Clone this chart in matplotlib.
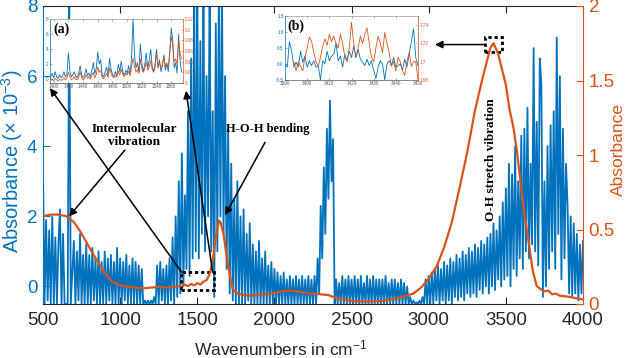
import numpy as np
import matplotlib
matplotlib.use('Agg')
import matplotlib.pyplot as plt
from matplotlib.patches import Rectangle

plt.rcParams['font.family'] = ['Liberation Sans', 'DejaVu Sans']
plt.rcParams['mathtext.default'] = 'regular'

BLUE = '#0072BD'
ORANGE = '#D95319'
DARK = '#262626'

# ---------------- main blue spectrum (x 10^-3), every 10 cm^-1 from 500 ----------------
blue_0500 = [3.3, -0.5, 1.9, -0.4, 1.6, -0.5, 2.0, -0.5, 1.4, -0.5,
             1.2, 2.2, -0.5, 1.5, -0.5, -0.5, -0.5, 8.5, -0.5, 0.4,
             1.3, -0.5, 1.0, -0.4, 1.5, -0.5, 0.9, -0.5, 1.2, -0.5,
             0.9, -0.5, 1.1, -0.4, 0.8, -0.5, 1.0, -0.5, 0.7, -0.5,
             1.0, -0.5, 0.8, -0.4, 0.9, -0.5, 0.7, -0.5, 1.1, -0.5]
blue_1000 = [0.8, -0.5, 0.7, -0.4, 0.9, -0.5, 0.6, -0.5, 0.8, -0.5,
             0.7, -0.5, 0.6, -0.5, 0.5, -0.5, -0.4, -0.5, -0.4, -0.5,
             -0.4, -0.5, -0.3, -0.5, 0.6, -0.5, 0.7, -0.4, 0.5, -0.5,
             0.6, -0.5, 0.8, -0.4, 1.4, -0.5, 2.0, -0.3, 3.0, -0.2,
             3.8, 0.0, 2.6, 0.5, 5.0, 0.3, 6.5, 0.8, 8.5, 1.0]
blue_1500 = [8.5, 0.8, 7.0, 1.5, 8.5, 1.0, 6.0, 2.0, 8.5, 1.0,
             5.0, -0.3, 7.5, 1.0, 8.5, 2.0, 8.5, 1.5, 6.0, 0.5,
             4.5, -0.2, 3.5, -0.4, 2.5, -0.5, 3.0, -0.5, 2.0, -0.5,
             2.2, -0.5, 1.5, -0.4, 1.8, -0.5, 1.2, -0.5, 1.0, -0.5,
             1.3, -0.5, 0.8, -0.5, 1.0, -0.5, 0.6, -0.5, 0.7, -0.5]
blue_2000 = [0.5, -0.5, 0.4, -0.5, 0.3, -0.5, 0.4, -0.5, 0.2, -0.5,
             0.3, -0.5, 0.2, -0.5, 0.3, -0.5, 0.2, -0.5, 0.3, -0.5,
             0.2, -0.5, 0.3, -0.5, 0.2, -0.5, 0.3, -0.5, 0.8, -0.2,
             2.3, 0.8, 3.4, 1.5, 4.5, 2.5, 5.3, 3.0, 4.2, -0.5,
             0.2, -0.5, 0.1, -0.5, 0.3, -0.5, 0.2, -0.5, 0.3, -0.5]
blue_2500 = [0.2, -0.5, 0.3, -0.5, 0.2, -0.5, 0.3, -0.5, 0.1, -0.5,
             0.3, -0.5, 0.2, -0.5, 0.3, -0.5, 0.2, -0.5, 0.2, -0.5,
             0.2, -0.5, 0.3, -0.5, 0.1, -0.5, 0.2, -0.5, 0.2, -0.5,
             0.1, -0.5, 0.2, -0.5, 0.1, -0.5, 0.0, -0.5, -0.3, -0.5,
             -0.4, -0.5, -0.45, -0.5, -0.4, -0.5, -0.3, -0.5, 0.2, -0.5]
blue_3000 = [0.3, -0.5, 0.4, -0.5, 0.5, -0.4, 0.6, -0.5, 0.5, -0.4,
             0.7, -0.5, 0.6, -0.4, 0.8, -0.5, 0.7, -0.3, 0.9, -0.4,
             0.8, -0.3, 1.0, -0.4, 0.9, -0.2, 1.1, -0.3, 1.0, -0.2,
             1.2, -0.3, 1.1, -0.1, 1.3, -0.2, 1.2, 0.0, 1.4, -0.2,
             1.5, 0.0, 1.8, -0.1, 1.6, 0.2, 2.0, 0.0, 2.4, 0.2]
blue_3500 = [2.8, 0.3, 3.5, 0.0, 3.2, 0.5, 4.0, 0.3, 3.0, 0.8,
             4.3, 0.5, 4.5, 1.0, 5.1, 0.8, 3.5, 1.2, 6.8, 1.0,
             4.7, 0.6, 6.5, 5.8, -0.3, 3.0, 0.0, 4.0, 0.5, 4.6,
             1.0, 5.0, 0.5, 7.1, 1.5, 6.0, 0.2, 4.5, 0.8, 3.5,
             2.3, -0.2, 2.0, -0.3, 1.8, -0.2, 1.5, -0.4, 1.2, -0.2,
             1.3]
blue_vals = blue_0500 + blue_1000 + blue_1500 + blue_2000 + blue_2500 + blue_3000 + blue_3500
blue_wn = 500 + 10 * np.arange(len(blue_vals))

# ---------------- main orange spectrum ----------------
orange_wn = [500, 550, 600, 650, 700, 740, 800, 850, 900, 950, 1000, 1050, 1100, 1150,
             1200, 1250, 1300, 1350, 1400, 1420, 1440, 1460, 1480, 1500, 1520, 1540,
             1560, 1580, 1600, 1620, 1640, 1650, 1670, 1700, 1730, 1760, 1800, 1850,
             1900, 1950, 2000, 2050, 2100, 2150, 2200, 2250, 2300, 2350, 2400, 2450,
             2500, 2600, 2700, 2800, 2850, 2900, 2950, 3000, 3050, 3100, 3150, 3200,
             3250, 3300, 3350, 3400, 3420, 3450, 3500, 3525, 3550, 3575, 3600, 3625,
             3650, 3675, 3700, 3725, 3750, 3775, 3800, 3825, 3850, 3900, 3950, 4000]
orange_vals = [0.59, 0.60, 0.60, 0.59, 0.55, 0.49, 0.38, 0.29, 0.21, 0.15, 0.125, 0.115,
               0.11, 0.105, 0.11, 0.115, 0.11, 0.115, 0.12, 0.13, 0.12, 0.135, 0.125,
               0.14, 0.13, 0.15, 0.16, 0.20, 0.29, 0.45, 0.56, 0.55, 0.47, 0.25, 0.10,
               0.07, 0.06, 0.055, 0.06, 0.065, 0.075, 0.085, 0.09, 0.085, 0.075, 0.07,
               0.065, 0.06, 0.04, 0.03, 0.02, 0.015, 0.02, 0.04, 0.055, 0.07, 0.11,
               0.17, 0.25, 0.38, 0.55, 0.78, 1.02, 1.30, 1.52, 1.72, 1.75, 1.68, 1.47,
               1.30, 1.18, 1.00, 0.77, 0.57, 0.40, 0.22, 0.12, 0.10, 0.085, 0.09, 0.065,
               0.07, 0.055, 0.05, 0.04, 0.03]

# ---------------- inset (a) ----------------
ia_wn = list(range(1396, 1576, 2))
ia_blue = [0.3, 0.8, 0.2, 1.0, 0.3, 0.1, 0.6, 0.2, 0.4, 1.0,
           0.3, 0.6, 3.5, 1.2, 0.3, 0.6, 1.0, 0.4, 0.2, 0.8,
           1.8, 0.6, 0.2, 0.5, 1.4, 0.5, 0.8, 0.3, 1.2, 2.2,
           0.7, 1.5, 3.6, 2.0, 2.6, 0.6, 0.3, 1.0, 1.6, 0.5,
           2.8, 1.4, 0.6, 0.4, 1.0, 0.5, 2.0, 1.0, 2.4, 1.0,
           0.5, 1.2, 0.8, 1.8, 0.6, 3.0, 8.0, 3.2, 1.5, 2.2,
           1.0, 4.7, 2.2, 1.0, 2.0, 3.5, 1.5, 2.5, 4.0, 1.8,
           1.0, 2.0, 4.0, 1.5, 2.6, 1.0, 1.8, 3.2, 1.2, 2.0,
           1.0, 3.5, 6.8, 5.2, 1.5, 2.2, 0.8, 6.0, 2.5, 1.0]
ia_orange = [0.005, 0.008, 0.004, 0.009, 0.006, 0.004, 0.007, 0.005, 0.006, 0.010,
             0.006, 0.009, 0.020, 0.012, 0.006, 0.008, 0.012, 0.007, 0.006, 0.010,
             0.022, 0.010, 0.006, 0.008, 0.015, 0.009, 0.012, 0.007, 0.014, 0.020,
             0.010, 0.016, 0.030, 0.020, 0.024, 0.010, 0.008, 0.013, 0.018, 0.010,
             0.028, 0.018, 0.012, 0.010, 0.014, 0.011, 0.022, 0.015, 0.026, 0.016,
             0.012, 0.018, 0.015, 0.022, 0.014, 0.030, 0.047, 0.032, 0.020, 0.025,
             0.018, 0.045, 0.028, 0.020, 0.026, 0.040, 0.024, 0.030, 0.042, 0.026,
             0.020, 0.030, 0.055, 0.030, 0.038, 0.028, 0.035, 0.050, 0.030, 0.038,
             0.030, 0.060, 0.087, 0.070, 0.040, 0.045, 0.035, 0.080, 0.055, 0.045]

# ---------------- inset (b) ----------------
ib_wn = list(range(3390, 3451))
ib_blue = [0.0, -0.1, 0.7, 0.4, -0.1, 0.05, -0.1, 0.4, 0.05, 0.25,
           -0.1, 0.1, -0.05, 0.1, -0.1, -0.05, -0.5, 0.1, 0.0, 0.4,
           0.1, 0.25, 0.3, 0.65, 0.1, 0.25, -0.1, 0.3, 0.1, 0.4,
           0.2, 0.55, 0.2, 0.45, 0.15, 0.05, -0.05, 0.15, -0.05, 0.1,
           -0.2, -0.45, -0.1, 0.1, 0.0, -0.5, 0.0, 0.1, -0.05, 0.2,
           -0.1, -0.05, 0.0, -0.2, 0.15, -0.1, 0.3, 0.7, 1.1, 0.2,
           -0.05]
ib_or_wn = list(range(3394, 3451))
ib_orange = [1.700, 1.690, 1.700, 1.695, 1.690, 1.705, 1.715, 1.727, 1.722, 1.710,
             1.700, 1.695, 1.705, 1.717, 1.725, 1.718, 1.730, 1.722, 1.728, 1.720,
             1.715, 1.730, 1.720, 1.705, 1.700, 1.715, 1.743, 1.720, 1.705, 1.715,
             1.728, 1.720, 1.730, 1.737, 1.720, 1.705, 1.700, 1.715, 1.728, 1.720,
             1.710, 1.732, 1.720, 1.710, 1.695, 1.700, 1.690, 1.705, 1.700, 1.690,
             1.685, 1.700, 1.710, 1.695, 1.700, 1.700, 1.680]

# ================= figure =================
fig = plt.figure(figsize=(6.36, 3.58), dpi=100)
ax = fig.add_axes([43/636, 1-304/358, 540/636, 298/358])
ax.plot(blue_wn, blue_vals, color=BLUE, lw=1.3)
ax.set_xlim(500, 4000)
ax.set_ylim(-0.5, 8)
ax.set_xticks(range(500, 4001, 500))
ax.set_yticks([0, 2, 4, 6, 8])
ax.tick_params(axis='x', direction='in', top=True, length=5, labelsize=13.5,
               colors=DARK, pad=6)
ax.tick_params(axis='y', direction='in', length=5, labelsize=13.5, colors=BLUE, pad=4)
ax.spines['left'].set_color(BLUE)
ax.spines['right'].set_visible(False)
ax.spines['top'].set_color(DARK)
ax.spines['bottom'].set_color(DARK)
ax.set_xlabel('Wavenumbers in cm$^{-1}$', fontsize=12.5, color=DARK)
ax.xaxis.set_label_coords(0.44, -0.115)
ax.set_ylabel('Absorbance (× 10$^{-3}$)', fontsize=14.5, color=BLUE)
ax.yaxis.set_label_coords(-0.034, 0.48)

ax2 = ax.twinx()
ax2.plot(orange_wn, orange_vals, color=ORANGE, lw=1.6)
ax2.set_ylim(0, 2)
ax2.set_yticks([0, 0.5, 1, 1.5, 2])
ax2.set_yticklabels(['0', '0.5', '1', '1.5', '2'])
ax2.tick_params(axis='y', direction='in', length=5, labelsize=13.5, colors=ORANGE, pad=4)
for s in ['left', 'top', 'bottom']:
    ax2.spines[s].set_visible(False)
ax2.spines['right'].set_color(ORANGE)
ax2.set_ylabel('Absorbance', fontsize=12.5, color=ORANGE)
ax2.yaxis.set_label_coords(1.052, 0.52)

T = ax.transData
arrow_kw = dict(arrowstyle='-|>', color='black', lw=1.1, mutation_scale=11,
                shrinkA=0, shrinkB=0)
serif = dict(family=['Liberation Serif', 'DejaVu Serif'], fontweight='bold', color='black')

ax2.text(1090, 4.3, 'Intermolecular\nvibration', transform=T, ha='center', va='center',
         fontsize=9.5, linespacing=1.15, **serif)
ax2.text(1958, 4.48, 'H-O-H bending', transform=T, ha='center', va='center',
         fontsize=9, **serif)
ax2.text(3402, 3.63, 'O-H stretch vibration', transform=T, ha='center', va='center',
         rotation=90, fontsize=9.5, **serif)

ax2.annotate('', xy=(669, 2.0), xytext=(1031, 3.89), xycoords=T, textcoords=T,
             arrowprops=arrow_kw)
ax2.annotate('', xy=(1680, 2.03), xytext=(1939, 4.11), xycoords=T, textcoords=T,
             arrowprops=arrow_kw)
ax2.annotate('', xy=(545, 5.66), xytext=(1400, 0.4), xycoords=T, textcoords=T,
             arrowprops=arrow_kw)
ax2.annotate('', xy=(1427, 5.58), xytext=(1600, 0.4), xycoords=T, textcoords=T,
             arrowprops=arrow_kw)
ax2.annotate('', xy=(3041, 6.9), xytext=(3365, 6.9), xycoords=T, textcoords=T,
             arrowprops=arrow_kw)

ax2.add_patch(Rectangle((1395, -0.1), 215, 0.5, transform=T, fill=False,
                        edgecolor='black', lw=2, linestyle=(0, (1.2, 1.0))))
ax2.add_patch(Rectangle((3365, 6.7), 108, 0.43, transform=T, fill=False,
                        edgecolor='black', lw=2, linestyle=(0, (1.2, 1.0))))

def style_inset(a, a2):
    a.tick_params(axis='both', direction='in', length=1.5, width=0.4, labelsize=3.3, pad=1)
    a.tick_params(axis='x', colors='#555555', top=True)
    a.tick_params(axis='y', colors=BLUE)
    a2.tick_params(axis='y', direction='in', length=1.5, width=0.4, labelsize=3.3, pad=1,
                   colors=ORANGE)
    a.spines['left'].set_color(BLUE)
    a.spines['top'].set_color('#999999')
    a.spines['bottom'].set_color('#555555')
    a.spines['right'].set_visible(False)
    for s in ['left', 'top', 'bottom']:
        a2.spines[s].set_visible(False)
    a2.spines['right'].set_color(ORANGE)
    for sp in list(a.spines.values()) + list(a2.spines.values()):
        sp.set_linewidth(0.5)

# inset (a)
axa = fig.add_axes([50/636, 1-83/358, 133/636, 64/358])
axa.plot(ia_wn, ia_blue, color=BLUE, lw=0.6)
axa.set_xlim(1395, 1576)
axa.set_ylim(-0.5, 8)
axa.set_xticks(range(1400, 1561, 20))
axa.set_yticks([0, 2, 4, 6, 8])
axa2 = axa.twinx()
axa2.plot(ia_wn, ia_orange, color=ORANGE, lw=0.6)
axa2.set_ylim(0, 0.12)
axa2.set_yticks([0, 0.02, 0.04, 0.06, 0.08, 0.1, 0.12])
axa2.set_yticklabels(['0', '0.02', '0.04', '0.06', '0.08', '0.1', '0.12'])
style_inset(axa, axa2)
axa2.text(0.09, 0.84, '(a)', transform=axa.transAxes, ha='center', va='center',
          fontsize=10, **serif)

# inset (b)
axb = fig.add_axes([285/636, 1-80/358, 133/636, 64/358])
axb.plot(ib_wn, ib_blue, color=BLUE, lw=0.6)
axb.set_xlim(3390, 3450)
axb.set_ylim(-0.5, 1.5)
axb.set_xticks(range(3390, 3451, 10))
axb.set_yticks([-0.5, 0, 0.5, 1, 1.5])
axb.set_yticklabels(['-0.5', '0.0', '0.5', '1.0', '1.5'])
axb2 = axb.twinx()
axb2.plot(ib_or_wn, ib_orange, color=ORANGE, lw=0.6)
axb2.set_ylim(1.68, 1.75)
axb2.set_yticks([1.68, 1.70, 1.72, 1.74])
axb2.set_yticklabels(['1.68', '1.7', '1.72', '1.74'])
style_inset(axb, axb2)
axb2.text(0.083, 0.84, '(b)', transform=axb.transAxes, ha='center', va='center',
          fontsize=10, **serif)

fig.savefig('out.png', dpi=100)
